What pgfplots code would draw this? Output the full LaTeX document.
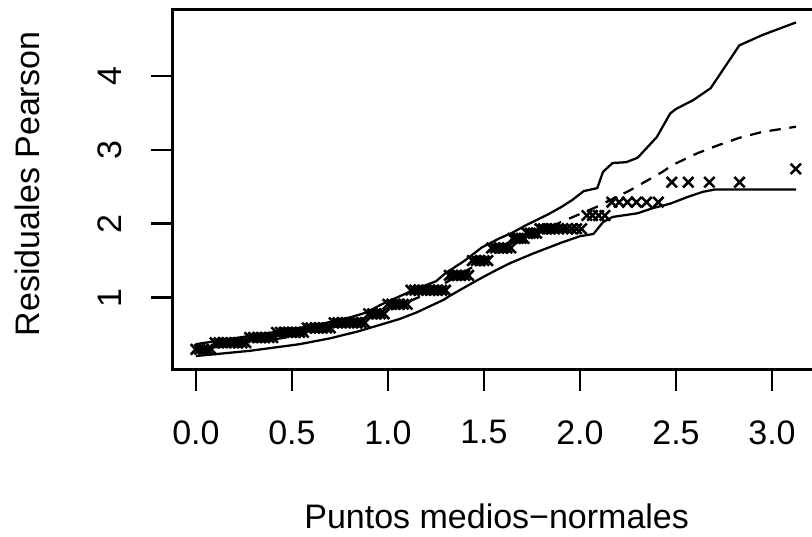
\documentclass[border=0pt]{standalone}
\usepackage{fontspec}
\setmainfont{Liberation Sans}
\usepackage{pgfplots}
\pgfplotsset{compat=1.18}
\begin{document}
\begin{tikzpicture}
\begin{axis}[
  scale only axis, width=485.5pt, height=270pt,
  xmin=-0.121, xmax=3.25, ymin=0.03, ymax=4.897,
  axis line style={line width=2.1pt},
  xtick={0,0.5,1,1.5,2,2.5,3}, xticklabels={0.0,0.5,1.0,1.5,2.0,2.5,3.0},
  ytick={1,2,3,4}, yticklabels={1,2,3,4},
  tick align=outside, major tick length=16.5pt,
  every tick/.style={line width=1.7pt, black},
  xtick pos=bottom, ytick pos=left,
  tick label style={font=\fontsize{25.5}{30}\selectfont, inner sep=0pt},
  xticklabel style={anchor=north},
  yticklabel style={rotate=90, anchor=south},
  xticklabel shift=21.5pt, yticklabel shift=21.5pt,
]
% lower envelope
\addplot[black, line width=1.7pt] coordinates {
(0.00,0.21)(0.28,0.28)(0.54,0.37)(0.70,0.45)(0.84,0.54)(0.97,0.64)(1.06,0.71)(1.15,0.80)(1.29,0.97)(1.32,1.02)(1.40,1.14)(1.49,1.27)(1.57,1.38)(1.64,1.47)(1.76,1.60)(1.90,1.74)(2.00,1.83)(2.07,1.86)(2.12,2.02)(2.17,2.09)(2.30,2.14)(2.38,2.21)(2.47,2.27)(2.56,2.36)(2.64,2.43)(2.70,2.46)(3.125,2.46)};
% upper envelope
\addplot[black, line width=1.7pt] coordinates {
(0.00,0.37)(0.10,0.41)(0.25,0.47)(0.40,0.53)(0.54,0.59)(0.70,0.67)(0.80,0.73)(0.89,0.80)(0.96,0.90)(1.02,0.97)(1.15,1.12)(1.25,1.22)(1.30,1.33)(1.40,1.50)(1.49,1.68)(1.58,1.80)(1.65,1.88)(1.72,1.98)(1.83,2.12)(1.90,2.22)(1.96,2.32)(2.02,2.44)(2.09,2.48)(2.12,2.70)(2.17,2.82)(2.24,2.83)(2.30,2.89)(2.40,3.17)(2.47,3.49)(2.50,3.55)(2.59,3.67)(2.68,3.83)(2.75,4.10)(2.83,4.41)(2.95,4.55)(3.125,4.72)};
% mean
\addplot[black, line width=1.7pt, dash pattern=on 8.5pt off 6.5pt] coordinates {
(0.00,0.29)(0.25,0.38)(0.50,0.47)(0.75,0.62)(1.00,0.82)(1.20,1.05)(1.40,1.35)(1.60,1.66)(1.75,1.84)(1.90,2.02)(2.00,2.13)(2.09,2.23)(2.26,2.45)(2.43,2.70)(2.48,2.79)(2.61,2.95)(2.72,3.06)(2.83,3.16)(2.95,3.24)(3.125,3.31)};
% residuals
\addplot[only marks, mark=x, mark size=5.5pt, line width=1.9pt, black, mark options={line width=1.9pt}] table {
x y
0.00 0.30
0.02 0.30
0.04 0.30
0.06 0.30
0.08 0.30
0.10 0.39
0.12 0.39
0.14 0.39
0.16 0.39
0.18 0.39
0.20 0.39
0.22 0.39
0.24 0.39
0.26 0.39
0.28 0.46
0.30 0.46
0.32 0.46
0.34 0.46
0.36 0.46
0.38 0.46
0.40 0.46
0.42 0.53
0.44 0.53
0.46 0.53
0.48 0.53
0.50 0.53
0.52 0.53
0.54 0.53
0.56 0.53
0.58 0.59
0.60 0.59
0.62 0.59
0.64 0.59
0.66 0.59
0.68 0.59
0.70 0.59
0.72 0.66
0.74 0.66
0.76 0.66
0.78 0.66
0.80 0.66
0.82 0.66
0.84 0.66
0.86 0.66
0.88 0.66
0.90 0.78
0.92 0.78
0.94 0.78
0.96 0.78
0.98 0.78
1.00 0.91
1.02 0.91
1.04 0.91
1.06 0.91
1.08 0.91
1.10 0.91
1.12 1.10
1.14 1.10
1.16 1.10
1.18 1.10
1.20 1.10
1.22 1.10
1.24 1.10
1.26 1.10
1.28 1.10
1.30 1.10
1.32 1.30
1.34 1.30
1.36 1.30
1.38 1.30
1.40 1.30
1.42 1.30
1.44 1.50
1.46 1.50
1.48 1.50
1.50 1.50
1.52 1.50
1.54 1.67
1.56 1.67
1.58 1.67
1.60 1.67
1.62 1.67
1.64 1.67
1.650 1.80
1.665 1.80
1.679 1.80
1.694 1.80
1.709 1.80
1.725 1.87
1.741 1.87
1.757 1.87
1.774 1.87
1.792 1.93
1.810 1.93
1.829 1.93
1.848 1.93
1.868 1.93
1.889 1.93
1.911 1.93
1.933 1.93
1.957 1.93
1.982 1.93
2.008 1.93
2.036 2.11
2.065 2.11
2.097 2.11
2.130 2.11
2.166 2.29
2.204 2.29
2.247 2.29
2.294 2.29
2.347 2.29
2.408 2.29
2.478 2.56
2.564 2.56
2.674 2.56
2.831 2.56
3.124 2.74
};
\end{axis}
\node[anchor=base, inner sep=0pt, font=\fontsize{25.5}{30}\selectfont] at (243pt,-119pt) {Puntos medios−normales};
\node[rotate=90, anchor=south, inner sep=0pt, font=\fontsize{25.5}{30}\selectfont] at (-99.5pt,139pt) {Residuales Pearson};
\pgfresetboundingbox
\useasboundingbox (-129.5pt,-125pt) rectangle (479.5pt,277pt);
\end{tikzpicture}
\end{document}
